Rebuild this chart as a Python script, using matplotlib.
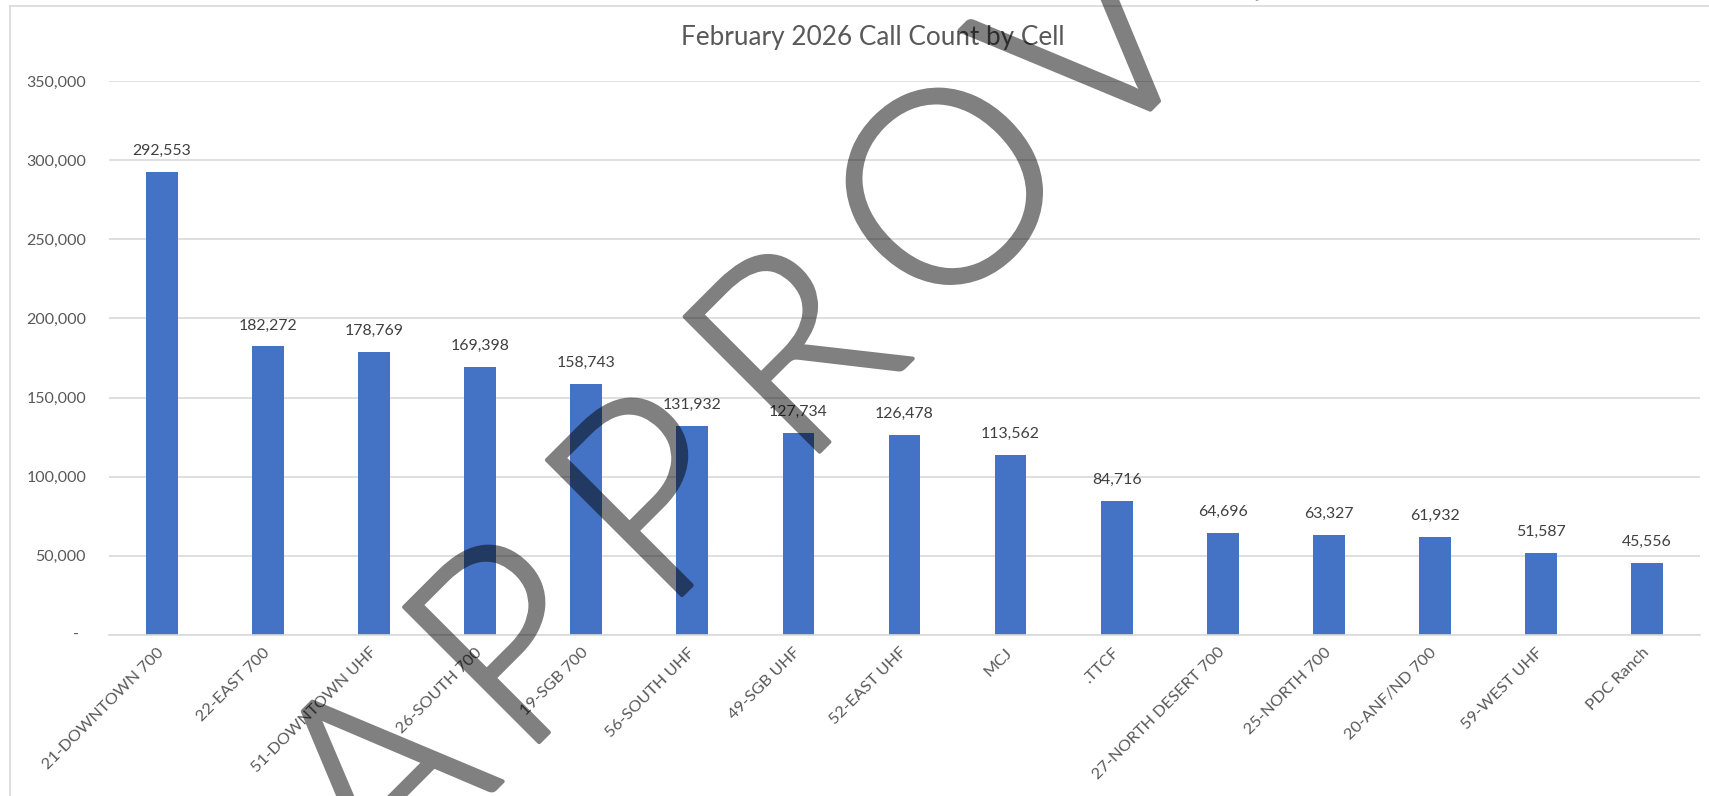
import os
import matplotlib
matplotlib.use('Agg')
import matplotlib.pyplot as plt
import matplotlib.font_manager as fm
import numpy as np
from matplotlib.lines import Line2D
from matplotlib.patches import PathPatch
from matplotlib.textpath import TextPath
from matplotlib.font_manager import FontProperties
from matplotlib.transforms import Affine2D, IdentityTransform

# ---------------- data ----------------
title = "February 2026 Call Count by Cell"
categories = ['21-DOWNTOWN 700', '22-EAST 700', '51-DOWNTOWN UHF', '26-SOUTH 700',
              '19-SGB 700', '56-SOUTH UHF', '49-SGB UHF', '52-EAST UHF', 'MCJ',
              '.TTCF', '27-NORTH DESERT 700', '25-NORTH 700', '20-ANF/ND 700',
              '59-WEST UHF', 'PDC Ranch']
values = [292553, 182272, 178769, 169398, 158743, 131932, 127734, 126478,
          113562, 84716, 64696, 63327, 61932, 51587, 45556]
yticks = [0, 50000, 100000, 150000, 200000, 250000, 300000, 350000]
ytick_labels = ['', '50,000', '100,000', '150,000', '200,000', '250,000',
                '300,000', '350,000']
watermark = "APPROVED"

# ---------------- figure ----------------
W, H = 1709, 796
FONT = 'Lato'
plt.rcParams['font.family'] = [FONT, 'DejaVu Sans']
fig = plt.figure(figsize=(W / 100, H / 100), dpi=100)
fig.patch.set_facecolor('white')
renderer = fig.canvas.get_renderer()


def fit(text, target_px, base=10):
    t = fig.text(0, 0, text, fontsize=base)
    w = t.get_window_extent(renderer).width
    t.remove()
    return base * target_px / w


fs_title = fit(title, 383)
fs_tick = fit('350,000', 59)
fs_lab = fit('292,553', 59)
fs_x = fit('21-DOWNTOWN 700', 165)

GRID = '#D9D9D9'
TXT = '#595959'

# chart area border (left and top)
fig.add_artist(Line2D([10 / W, 10 / W], [0, 1 - 6 / H], color=GRID, lw=1.2))
fig.add_artist(Line2D([10 / W, 1], [1 - 6 / H, 1 - 6 / H], color=GRID, lw=1.2))

ax = fig.add_axes([109 / W, 1 - 635 / H, (1700 - 109) / W, (635 - 81) / H])
x = np.arange(len(categories))
ax.bar(x, values, width=0.30, color='#4472C4', zorder=2)
ax.set_xlim(-0.5, len(categories) - 0.5)
ax.set_ylim(0, 350000)
ax.set_yticks(yticks)
ax.set_yticklabels(ytick_labels)
ax.grid(axis='y', color=GRID, lw=1.2, zorder=0)
ax.set_axisbelow(True)
for s in ['top', 'right', 'left']:
    ax.spines[s].set_visible(False)
ax.spines['bottom'].set_color(GRID)
ax.spines['bottom'].set_linewidth(1.2)
ax.tick_params(axis='y', length=0, pad=16.5, labelsize=fs_tick, labelcolor=TXT)
ax.tick_params(axis='x', length=0, pad=11, labelsize=fs_x, labelcolor=TXT)
ax.set_xticks(x)
ax.set_xticklabels(categories, rotation=45, ha='right', va='center',
                   rotation_mode='anchor')
ax.text((76 - 109) / 1591, 0, '-', transform=ax.get_yaxis_transform(),
        ha='center', va='center', fontsize=fs_tick, color=TXT)

for xi, v in zip(x, values):
    ax.annotate(f'{v:,}', (xi, v), xytext=(0, 21 * 0.72), textcoords='offset points',
                ha='center', va='center', fontsize=fs_lab, color='#404040')

fig.text(872.5 / W, 1 - 38 / H, title, ha='center', va='center',
         fontsize=fs_title, color=TXT)

# ---------------- watermark (semi-transparent, drawn as one layer) ----------------
def pick_light_font():
    prefs = ['Lato-Light', 'OpenSans-Light', 'Roboto-Light', 'NotoSans-Light']
    for stem in prefs:
        for f in fm.fontManager.ttflist:
            base = os.path.splitext(os.path.basename(f.fname))[0]
            if base.replace(' ', '') == stem:
                return FontProperties(fname=f.fname), 4.0
    return FontProperties(family=FONT, weight='normal'), 0.0


wm_prop, extra_px = pick_light_font()
hp = TextPath((0, 0), 'H', size=100, prop=wm_prop)
cap_ratio = hp.get_extents().height / 100.0
size_px = (195 - extra_px) / cap_ratio
# letter centres along baseline (s) and baseline offset (t), px in a 45 deg frame
wm_s = [-282, -85, 120, 326, 536, 742, 947, 1152]
wm_t = [-908, -906, -903, -899, -895, -891, -888, -885]
r2 = np.sqrt(2)

wfig = plt.figure(figsize=(W / 100, H / 100), dpi=100)
wfig.patch.set_alpha(0)
for ch, s, t in zip(watermark, wm_s, wm_t):
    tp = TextPath((0, 0), ch, size=size_px, prop=wm_prop)
    ext = tp.get_extents()
    cx = (ext.x0 + ext.x1) / 2
    px = (s - t) / r2
    py = (-t - s) / r2
    tr = Affine2D().translate(-cx, 0).rotate_deg(45).translate(px, H - py)
    path = tr.transform_path(tp)
    wfig.add_artist(PathPatch(path, facecolor='black', edgecolor='black',
                              lw=extra_px * 0.72, joinstyle='round',
                              transform=IdentityTransform()))
wfig.canvas.draw()
buf = np.asarray(wfig.canvas.buffer_rgba()).astype(float)
plt.close(wfig)
layer = np.zeros((H, W, 4))
layer[..., 3] = buf[:H, :W, 3] / 255.0 * 0.5
fig.figimage(layer, xo=0, yo=0, origin='upper', zorder=10)

fig.savefig('out.png', dpi=100, facecolor='white')
